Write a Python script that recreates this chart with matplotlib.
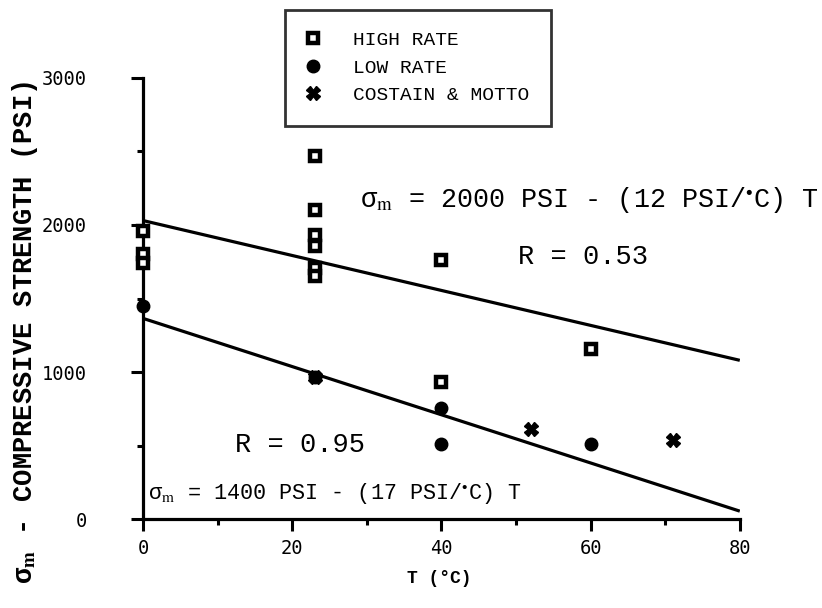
import matplotlib
matplotlib.use("Agg")
import matplotlib.pyplot as plt

# data
high_T = [0, 0, 0, 23, 23, 23, 23, 23, 23, 40, 40, 60]
high_S = [1960, 1800, 1740, 2470, 2100, 1930, 1860, 1710, 1655, 1760, 935, 1160]

low_T = [0, 23, 40, 40, 60]
low_S = [1450, 970, 755, 510, 510]

costain_T = [23, 52, 71]
costain_S = [970, 615, 540]

fit_T = [0, 80]
high_fit = [2030, 1080]
low_fit = [1365, 55]

mono = "Liberation Mono"
plt.rcParams["mathtext.fontset"] = "stix"

fig = plt.figure(figsize=(8.22, 6.08), dpi=100)
ax = fig.add_axes([0.174, 0.146, 0.726, 0.726])

# regression lines
ax.plot(fit_T, high_fit, color="black", lw=2.3, solid_capstyle="butt")
ax.plot(fit_T, low_fit, color="black", lw=2.3, solid_capstyle="butt")

# points
ax.plot(high_T, high_S, ls="none", marker="s", ms=6.5, mfc="white", mec="black",
        mew=3.2, clip_on=False, label="HIGH RATE", zorder=3)
ax.plot(low_T, low_S, ls="none", marker="o", ms=9, color="black",
        clip_on=False, label="LOW RATE", zorder=3)
ax.plot(costain_T, costain_S, ls="none", marker="X", ms=10, color="black",
        mec="black", clip_on=False, label="COSTAIN & MOTTO", zorder=3)

ax.set_xlim(0, 80)
ax.set_ylim(0, 3000)
ax.spines["top"].set_visible(False)
ax.spines["right"].set_visible(False)
ax.spines["left"].set_linewidth(2.3)
ax.spines["bottom"].set_linewidth(2.3)

ax.set_xticks([0, 20, 40, 60, 80])
ax.set_xticks([10, 30, 50, 70], minor=True)
ax.set_yticks([0, 1000, 2000, 3000])
ax.set_yticks([500, 1500, 2500], minor=True)
ax.tick_params(which="major", length=8.5, width=2.2, direction="out", pad=6)
ax.tick_params(which="minor", length=4.5, width=2.2, direction="out")
ax.tick_params(axis="y", which="major", pad=32)
for lab in ax.get_xticklabels() + ax.get_yticklabels():
    lab.set_fontfamily("DejaVu Sans Mono")
    lab.set_fontsize(13.5)

ax.set_xlabel("T (°C)", fontfamily=mono, fontweight="bold", fontsize=13)
ax.xaxis.set_label_coords(0.497, -0.116)
ax.set_ylabel(r"σ$_{\mathbf{m}}$ - COMPRESSIVE STRENGTH (PSI)", fontfamily=mono,
              fontweight="bold", fontsize=19.5)
ax.yaxis.set_label_coords(-0.172, 0.424)

# annotations
ax.text(29.1, 2170, r"σ$_{\mathrm{m}}$ = 2000 PSI - (12 PSI/$^{\bullet}$C) T",
        fontfamily=mono, fontsize=19.3, ha="left", va="center")
ax.text(50.3, 1784, "R = 0.53", fontfamily=mono, fontsize=19.5, ha="left", va="center")
ax.text(12.3, 503, "R = 0.95", fontfamily=mono, fontsize=19.5, ha="left", va="center")
ax.text(0.7, 177, r"σ$_{\mathrm{m}}$ = 1400 PSI - (17 PSI/$^{\bullet}$C) T",
        fontfamily=mono, fontsize=15.7, ha="left", va="center")

leg = ax.legend(loc="upper left", bbox_to_anchor=(0.238, 1.154), frameon=True,
                fancybox=False, prop={"family": mono, "size": 14.0}, borderpad=1.1,
                labelspacing=0.52, handlelength=0.7, handletextpad=1.7,
                borderaxespad=0)
leg.get_frame().set_edgecolor("black")
leg.get_frame().set_linewidth(2.0)

fig.savefig("out.png", dpi=100)
